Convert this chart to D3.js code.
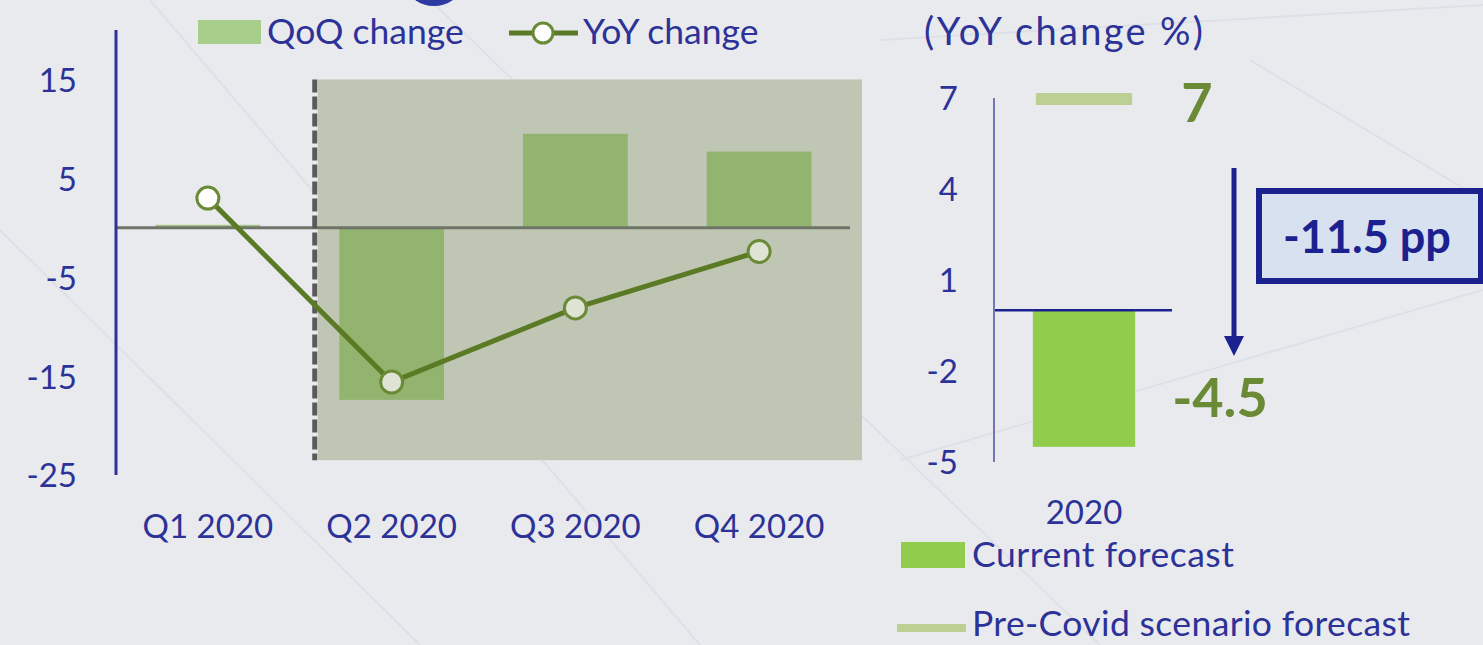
<!DOCTYPE html>
<html>
<head>
<meta charset="utf-8">
<script src="https://cdn.jsdelivr.net/npm/d3@7"></script>
<style>
  body { margin: 0; background: #e8eaee; overflow: hidden; }
  text { font-family: Lato, "Noto Sans", sans-serif; }
</style>
</head>
<body>
<div id="chart"></div>
<script>
// data
const quarters = ["Q1 2020", "Q2 2020", "Q3 2020", "Q4 2020"];
const qoqChange = [0.3, -17.4, 9.5, 7.7];
const yoyChange = [3.0, -15.6, -8.1, -2.4];
const leftTicks = [15, 5, -5, -15, -25];
const shadedFrom = "Q2 2020";

const years = ["2020"];
const currentForecast = [-4.5];
const preCovidForecast = [7];
const rightTicks = [7, 4, 1, -2, -5];
const gapLabel = "-11.5 pp";

const blue = "#2c3297";
const navy = "#1c2190";
const hyphen = f => v => f(v).replace("−", "-");

const width = 1483, height = 645;
const svg = d3.select("#chart").append("svg")
    .attr("width", width)
    .attr("height", height);

svg.append("rect").attr("width", width).attr("height", height).attr("fill", "#e8eaee");

// faint background strokes
const bgLines = [[0, 230, 420, 645], [430, 0, 1100, 645], [150, 0, 700, 645], [880, 40, 1483, 5], [900, 460, 1483, 290], [1250, 60, 1483, 200]];
svg.append("g").selectAll("line").data(bgLines).join("line")
    .attr("x1", d => d[0]).attr("y1", d => d[1]).attr("x2", d => d[2]).attr("y2", d => d[3])
    .attr("stroke", "#dde0e6").attr("stroke-width", 2);

// blob at top (cut off icon)
svg.append("ellipse").attr("cx", 434).attr("cy", -14).attr("rx", 26).attr("ry", 20).attr("fill", "#2c3aa2");

// ---------- left chart ----------
const x = d3.scaleBand()
    .domain(quarters)
    .range([116, 851])
    .paddingInner(0.43)
    .paddingOuter(0.215);

const y = d3.scaleLinear()
    .domain([-25, 20])
    .range([475, 30]);

const left = svg.append("g");

// shaded period
const shadeX = x(shadedFrom) - x.step() * x.paddingInner() / 2 + 18;
left.append("rect")
    .attr("x", shadeX)
    .attr("y", y(15))
    .attr("width", 862 - shadeX)
    .attr("height", y(-23.5) - y(15))
    .attr("fill", "#c0c6b4");

left.selectAll("rect.bar")
    .data(quarters)
    .join("rect")
    .attr("class", "bar")
    .attr("x", d => x(d))
    .attr("width", x.bandwidth())
    .attr("y", (d, i) => y(Math.max(0, qoqChange[i])))
    .attr("height", (d, i) => Math.abs(y(qoqChange[i]) - y(0)))
    .attr("fill", (d, i) => quarters.indexOf(d) >= quarters.indexOf(shadedFrom) ? "#92b46f" : "#a3c383");

left.append("line")
    .attr("x1", 116).attr("x2", 850)
    .attr("y1", y(0)).attr("y2", y(0))
    .attr("stroke", "#6f7468").attr("stroke-width", 3);

left.append("line")
    .attr("x1", shadeX - 3).attr("x2", shadeX - 3)
    .attr("y1", y(15)).attr("y2", y(-23.5))
    .attr("stroke", "#5a5a5a").attr("stroke-width", 5)
    .attr("stroke-dasharray", "13,4");

const lineGen = d3.line()
    .x((d, i) => x(quarters[i]) + x.bandwidth() / 2)
    .y(d => y(d));

left.append("path")
    .datum(yoyChange)
    .attr("d", lineGen)
    .attr("fill", "none")
    .attr("stroke", "#5b7a26")
    .attr("stroke-width", 5);

left.selectAll("circle.pt")
    .data(yoyChange)
    .join("circle")
    .attr("class", "pt")
    .attr("cx", (d, i) => x(quarters[i]) + x.bandwidth() / 2)
    .attr("cy", d => y(d))
    .attr("r", 11)
    .attr("fill", (d, i) => i >= quarters.indexOf(shadedFrom) ? "#dfe3d3" : "#ffffff")
    .attr("stroke", "#6b8a35")
    .attr("stroke-width", 3);

// axes
left.append("line")
    .attr("x1", 116).attr("x2", 116)
    .attr("y1", y(20)).attr("y2", y(-25))
    .attr("stroke", blue).attr("stroke-width", 3);

const yAxis = left.append("g")
    .attr("transform", "translate(116,0)")
    .call(d3.axisLeft(y).tickValues(leftTicks).tickFormat(hyphen(d3.format("d"))).tickSize(0).tickPadding(39));
yAxis.select(".domain").remove();
yAxis.selectAll("text")
    .attr("fill", blue).style("font-size", "33px").attr("dy", "0.36em");

const xAxis = left.append("g")
    .attr("transform", "translate(0,514)")
    .call(d3.axisBottom(x).tickSize(0).tickPadding(0));
xAxis.select(".domain").remove();
xAxis.selectAll("text")
    .attr("fill", blue).style("font-size", "33px").attr("dy", "0.72em");

// top legend
const legend = svg.append("g");
legend.append("rect").attr("x", 198).attr("y", 20).attr("width", 63).attr("height", 24).attr("fill", "#a7cd8b");
legend.append("text").attr("x", 267).attr("y", 44).attr("fill", blue).style("font-size", "35.5px").text("QoQ change");
legend.append("line").attr("x1", 509).attr("x2", 578).attr("y1", 33).attr("y2", 33)
    .attr("stroke", "#5b7a26").attr("stroke-width", 5);
legend.append("circle").attr("cx", 543).attr("cy", 33).attr("r", 10)
    .attr("fill", "#fff").attr("stroke", "#6b8a35").attr("stroke-width", 3);
legend.append("text").attr("x", 583).attr("y", 44).attr("fill", blue).style("font-size", "35.5px").text("YoY change");

// ---------- right chart ----------
const x2 = d3.scaleBand()
    .domain(years)
    .range([994, 1174])
    .paddingInner(0)
    .paddingOuter(0.38);

const y2 = d3.scaleLinear()
    .domain([-5, 7])
    .range([462, 98]);

const right = svg.append("g");

right.append("text")
    .attr("x", 924).attr("y", 45)
    .attr("fill", blue).style("font-size", "38px")
    .attr("textLength", 279).attr("lengthAdjust", "spacing")
    .text("(YoY change %)");

right.selectAll("rect.cur")
    .data(years)
    .join("rect")
    .attr("class", "cur")
    .attr("x", d => x2(d))
    .attr("width", x2.bandwidth())
    .attr("y", (d, i) => y2(Math.max(0, currentForecast[i])))
    .attr("height", (d, i) => Math.abs(y2(currentForecast[i]) - y2(0)))
    .attr("fill", "#92cc4c");

right.selectAll("rect.pre")
    .data(years)
    .join("rect")
    .attr("class", "pre")
    .attr("x", d => x2(d) + 3)
    .attr("width", x2.bandwidth() - 6)
    .attr("y", (d, i) => y2(preCovidForecast[i]) - 5)
    .attr("height", 12)
    .attr("fill", "#bdd093");

right.append("line")
    .attr("x1", 994).attr("x2", 1172)
    .attr("y1", y2(0)).attr("y2", y2(0))
    .attr("stroke", navy).attr("stroke-width", 2.5);

right.append("line")
    .attr("x1", 994).attr("x2", 994)
    .attr("y1", y2(7)).attr("y2", y2(-5))
    .attr("stroke", "#7276b8").attr("stroke-width", 2);

const yAxis2 = right.append("g")
    .attr("transform", "translate(994,0)")
    .call(d3.axisLeft(y2).tickValues(rightTicks).tickFormat(hyphen(d3.format("d"))).tickSize(0).tickPadding(36));
yAxis2.select(".domain").remove();
yAxis2.selectAll("text")
    .attr("fill", blue).style("font-size", "33px").attr("dy", "0.36em");

const xAxis2 = right.append("g")
    .attr("transform", "translate(0,500)")
    .call(d3.axisBottom(x2).tickSize(0).tickPadding(0));
xAxis2.select(".domain").remove();
xAxis2.selectAll("text")
    .attr("fill", blue).style("font-size", "33px").attr("dy", "0.72em");

// value labels
right.append("text")
    .attr("x", x2(years[0]) + x2.bandwidth() + 46).attr("y", y2(preCovidForecast[0]) + 24)
    .attr("fill", "#6b8a35").style("font-size", "54px").style("font-weight", "bold")
    .text(hyphen(d3.format("d"))(preCovidForecast[0]));
right.append("text")
    .attr("x", x2(years[0]) + x2.bandwidth() + 37).attr("y", y2(currentForecast[0]) - 30)
    .attr("fill", "#6b8a35").style("font-size", "54px").style("font-weight", "bold")
    .text(hyphen(d3.format(".1f"))(currentForecast[0]));

// arrow + gap box
const defs = svg.append("defs");
defs.append("marker")
    .attr("id", "arrow")
    .attr("viewBox", "0 0 10 10")
    .attr("refX", 3).attr("refY", 5)
    .attr("markerWidth", 4).attr("markerHeight", 4)
    .attr("orient", "auto")
    .append("path").attr("d", "M0,0 L10,5 L0,10 Z").attr("fill", navy);

right.append("line")
    .attr("x1", 1234).attr("x2", 1234)
    .attr("y1", 168).attr("y2", 342)
    .attr("stroke", navy).attr("stroke-width", 5)
    .attr("marker-end", "url(#arrow)");

right.append("rect")
    .attr("x", 1259).attr("y", 191)
    .attr("width", 222).attr("height", 90)
    .attr("fill", "#d8e1f0")
    .attr("stroke", navy).attr("stroke-width", 6);
right.append("text")
    .attr("x", 1367).attr("y", 253)
    .attr("text-anchor", "middle")
    .attr("fill", navy).style("font-size", "45px").style("font-weight", "bold")
    .text(gapLabel);

// bottom legend
const legend2 = svg.append("g");
legend2.append("rect").attr("x", 901).attr("y", 542).attr("width", 64).attr("height", 26).attr("fill", "#92cc4c");
legend2.append("text").attr("x", 972).attr("y", 567).attr("fill", blue).style("font-size", "35.5px")
    .attr("textLength", 262).attr("lengthAdjust", "spacing").text("Current forecast");
legend2.append("line").attr("x1", 897).attr("x2", 966).attr("y1", 628).attr("y2", 628)
    .attr("stroke", "#bdd093").attr("stroke-width", 8);
legend2.append("text").attr("x", 972).attr("y", 636).attr("fill", blue).style("font-size", "35.5px")
    .attr("textLength", 438).attr("lengthAdjust", "spacing").text("Pre-Covid scenario forecast");
</script>
</body>
</html>
